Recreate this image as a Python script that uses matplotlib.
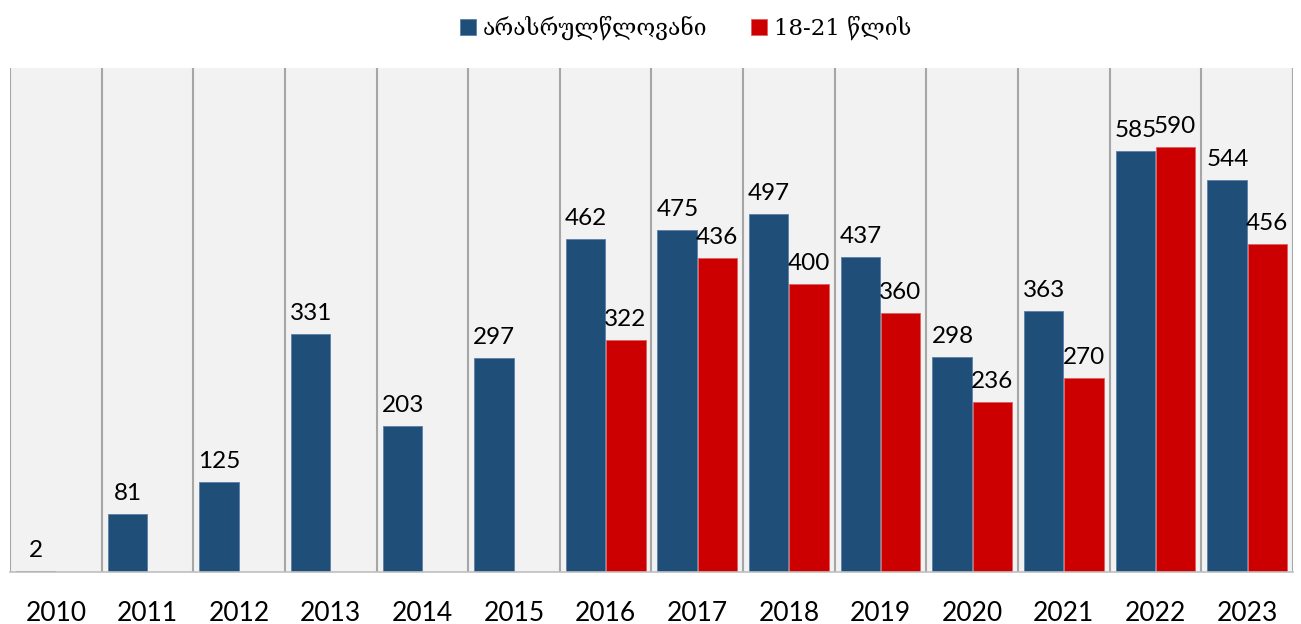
import numpy as np
import matplotlib.pyplot as plt

years = ["2010", "2011", "2012", "2013", "2014", "2015", "2016",
         "2017", "2018", "2019", "2020", "2021", "2022", "2023"]
minors = [2, 81, 125, 331, 203, 297, 462, 475, 497, 437, 298, 363, 585, 544]
youth = [None, None, None, None, None, None, 322, 436, 400, 360, 236, 270, 590, 456]
labels = ["არასრულწლოვანი", "18-21 წლის"]

blue = "#1f4e79"
red = "#cc0000"

fig = plt.figure(figsize=(13.01, 6.24), dpi=100)
ax = fig.add_axes([0.0077, 0.0833, 0.9861, 0.8077])
ax.set_facecolor("#f2f2f2")

x = np.arange(len(years))
w = 0.43
yv = [v if v is not None else 0 for v in youth]
b1 = ax.bar(x - w / 2 - 0.005, minors, w, color=blue, edgecolor="#5b7fa6", linewidth=0.6, label=labels[0])
b2 = ax.bar(x + w / 2 + 0.005, yv, w, color=red, edgecolor="#e06060", linewidth=0.6, label=labels[1])

for xi, v in zip(x, minors):
    ax.text(xi - w / 2, v + 14, str(v), ha="center", va="bottom", fontsize=17.5, family="Lato")
for xi, v in zip(x, youth):
    if v is not None:
        ax.text(xi + w / 2, v + 14, str(v), ha="center", va="bottom", fontsize=17.5, family="Lato")

ax.set_xlim(-0.5, len(years) - 0.5)
ax.set_ylim(0, 700)
for b in np.arange(-0.5, len(years), 1.0):
    ax.axvline(b, color="#a6a6a6", linewidth=1.5, zorder=0)

ax.set_xticks(x)
ax.set_xticklabels(years, fontsize=19, family="Lato")
ax.tick_params(axis="x", length=0, pad=21)
ax.set_yticks([])
for s in ["top", "right", "left"]:
    ax.spines[s].set_visible(False)
ax.spines["bottom"].set_color("#bfbfbf")
ax.spines["bottom"].set_linewidth(1.2)

fig.legend(handles=[b1, b2], labels=labels, loc="upper center", bbox_to_anchor=(0.527, 1.008),
           ncol=2, frameon=False, prop={"family": "DejaVu Serif", "size": 16.5},
           handlelength=0.7, handleheight=0.7, handletextpad=0.3, columnspacing=1.9)

fig.savefig("out.png", dpi=100)
